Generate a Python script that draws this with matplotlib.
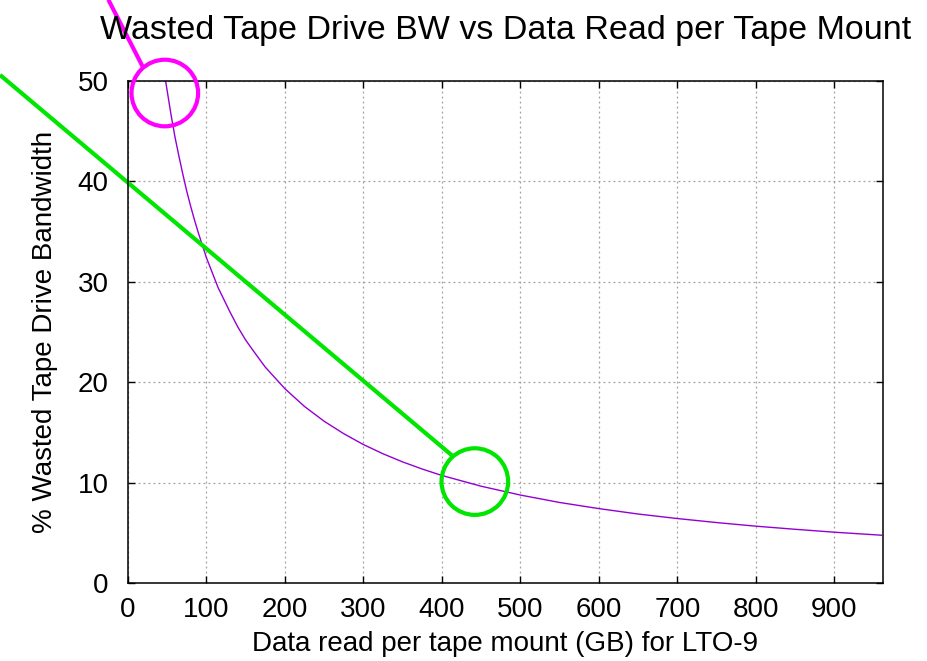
import matplotlib
matplotlib.use("Agg")
from matplotlib import pyplot as plt

# courbe
gb = [48, 55, 60, 65, 70, 75, 80, 85, 90, 100, 110, 115, 120, 130, 140, 150,
      160, 175, 200, 225, 250, 275, 300, 325, 350, 375, 400, 450, 500, 550,
      600, 650, 700, 750, 800, 850, 900, 960]
wasted = [50.0, 46.6, 44.4, 42.5, 40.7, 39.0, 37.5, 36.1, 34.8, 32.4, 30.4,
          29.4, 28.6, 27.0, 25.5, 24.2, 23.1, 21.5, 19.35, 17.58, 16.11, 14.87,
          13.79, 12.87, 12.06, 11.35, 10.71, 9.64, 8.76, 8.02,
          7.41, 6.87, 6.42, 6.02, 5.66, 5.35, 5.06, 4.76]

x_ticks = [0, 100, 200, 300, 400, 500, 600, 700, 800, 900]
y_ticks = [0, 10, 20, 30, 40, 50]

# annotations (coordonnees des donnees)
mag_line_x = [-25, 19]
mag_line_y = [58.1, 51.4]
mag_circle = (47, 48.8)
green_line_x = [-163, 413]
green_line_y = [50.6, 12.7]
green_circle = (442, 10.1)

plt.rcParams['font.family'] = ['Liberation Sans', 'DejaVu Sans']

fig = plt.figure(figsize=(9.27, 6.61), dpi=100)
ax = fig.add_axes([0.138, 0.118, 0.8145, 0.7595])

ax.plot(gb, wasted, color="#9400d3", lw=1.0)

ax.set_xlim(0, 962)
ax.set_ylim(0, 50)
ax.set_xticks(x_ticks)
ax.set_yticks(y_ticks)
ax.grid(True, color="#a0a0a0", linestyle=(0, (1.5, 2.5)), lw=0.9)
ax.tick_params(direction="in", length=5, width=1, labelsize=20,
               top=True, right=True)
ax.tick_params(axis="y", pad=14)
ax.tick_params(axis="x", pad=10)
for s in ax.spines.values():
    s.set_linewidth(1.1)

ax.set_xlabel("Data read per tape mount (GB) for LTO-9", fontsize=20, labelpad=6)
ax.set_ylabel("% Wasted Tape Drive Bandwidth", fontsize=20, labelpad=14)
ax.set_title("Wasted Tape Drive BW vs Data Read per Tape Mount", fontsize=24.5, pad=30)

ax.plot(mag_line_x, mag_line_y, color="#ff00ff", lw=3, clip_on=False, solid_capstyle="butt")
ax.scatter([mag_circle[0]], [mag_circle[1]], s=2300, facecolors="none",
           edgecolors="#ff00ff", linewidths=3, clip_on=False, zorder=5)
ax.plot(green_line_x, green_line_y, color="#00e600", lw=3, clip_on=False, solid_capstyle="butt")
ax.scatter([green_circle[0]], [green_circle[1]], s=2300, facecolors="none",
           edgecolors="#00e600", linewidths=3, clip_on=False, zorder=5)

fig.savefig("out.png", dpi=100)
